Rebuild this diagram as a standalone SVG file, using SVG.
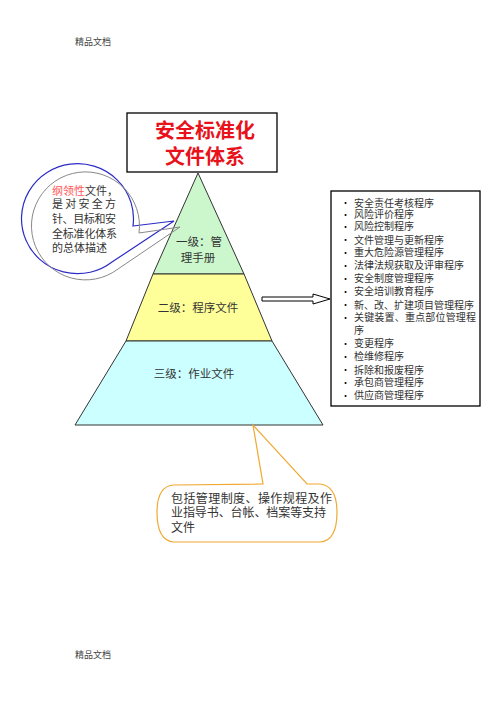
<svg xmlns="http://www.w3.org/2000/svg" width="496" height="702" viewBox="0 0 496 702">
<style>
text{font-family:"Noto Sans CJK SC","Liberation Sans",sans-serif;fill:#333}
.hdr{font-size:9px;fill:#444}
.lvl{font-size:11.5px;text-anchor:middle}
.list{font-size:10px;fill:#333}
.bul{font-size:9px;fill:#000}
.co{font-size:11px}
.co2{font-size:12px}
.title{font-size:20px;font-weight:bold;fill:#e8121b;text-anchor:middle}
</style>
<rect width="496" height="702" fill="#fff"/>
<text class="hdr" x="75" y="45">精品文档</text>
<text class="hdr" x="75" y="658">精品文档</text>

<g id="pyramid">
<polygon points="198,173 244,274 153,274" fill="#ccf7cc" stroke="#333" stroke-width="1"/>
<polygon points="153,274 244,274 272,341 126,341" fill="#ffff99" stroke="#333" stroke-width="1"/>
<polygon points="126,341 272,341 323,425 75,425" fill="#ccffff" stroke="#333" stroke-width="1"/>
<text class="lvl"><tspan x="199" y="246">一级：管</tspan><tspan x="198" y="262">理手册</tspan></text>
<text class="lvl" x="198" y="312">二级：程序文件</text>
<text class="lvl" x="194" y="378">三级：作业文件</text>
</g>

<g id="title">
<rect x="127" y="113" width="150" height="59" fill="#fff" stroke="#000" stroke-width="1.3"/>
<text class="title"><tspan x="205" y="138">安全标准化</tspan><tspan x="205" y="164">文件体系</tspan></text>
</g>

<g id="callout-left">
<path d="M133,226 L174,221 L112,262 A56,55 0 1 1 133,226 Z" fill="#fff" stroke="#2b2bc8" stroke-width="1.2"/>
<path d="M137,232 L178,226 L116,268 A54,54 0 1 1 137,232 Z" fill="none" stroke="#888" stroke-width="1" transform="translate(2,1)"/>
<text class="co"><tspan x="52" y="195" fill="#ff5a5a">纲领性</tspan><tspan>文件，</tspan><tspan x="52" y="208" textLength="64" lengthAdjust="spacing">是对安全方</tspan><tspan x="52" y="223" textLength="64" lengthAdjust="spacing">针、目标和安</tspan><tspan x="52" y="238" textLength="65" lengthAdjust="spacing">全标准化体系</tspan><tspan x="52" y="252">的总体描述</tspan></text>
</g>

<g id="connectors">
<path d="M262,297 L313,297 L313,294 L330,299 L313,304 L313,301 L262,301 Z" fill="#fff" stroke="#000" stroke-width="1"/>
</g>

<g id="list">
<rect x="331" y="191" width="149" height="215" fill="#fff" stroke="#000" stroke-width="1.3"/>
<text class="bul"><tspan x="341" y="206">•</tspan><tspan x="341" y="218">•</tspan><tspan x="341" y="230">•</tspan><tspan x="341" y="243">•</tspan><tspan x="341" y="256">•</tspan><tspan x="341" y="269">•</tspan><tspan x="341" y="282">•</tspan><tspan x="341" y="295">•</tspan><tspan x="341" y="308">•</tspan><tspan x="341" y="321">•</tspan><tspan x="341" y="347">•</tspan><tspan x="341" y="360">•</tspan><tspan x="341" y="373">•</tspan><tspan x="341" y="386">•</tspan><tspan x="341" y="399">•</tspan></text>
<text class="list"><tspan x="354" y="206.5">安全责任考核程序</tspan><tspan x="354" y="218">风险评价程序</tspan><tspan x="354" y="229.5">风险控制程序</tspan><tspan x="354" y="243.5">文件管理与更新程序</tspan><tspan x="354" y="255.5">重大危险源管理程序</tspan><tspan x="354" y="268.5">法律法规获取及评审程序</tspan><tspan x="354" y="281.5">安全制度管理程序</tspan><tspan x="354" y="294.5">安全培训教育程序</tspan><tspan x="354" y="308.5">新、改、扩建项目管理程序</tspan><tspan x="354" y="320.5" textLength="122" lengthAdjust="spacing">关键装置、重点部位管理程</tspan><tspan x="354" y="333.5">序</tspan><tspan x="354" y="346.5">变更程序</tspan><tspan x="354" y="359.5">检维修程序</tspan><tspan x="354" y="373.5">拆除和报废程序</tspan><tspan x="354" y="385.5">承包商管理程序</tspan><tspan x="354" y="398.5">供应商管理程序</tspan></text>
</g>

<g id="callout-bottom">
<path d="M253,425 L307,484 L320,484 Q337,486 337,512 Q337,541 320,542 L174,542 Q157,541 157,512 Q157,486 174,485 L263,484 Z" fill="#fff" stroke="#f0a830" stroke-width="1.2"/>
<text class="co2"><tspan x="171" y="502.5" textLength="161" lengthAdjust="spacing">包括管理制度、操作规程及作</tspan><tspan x="171" y="517" textLength="155" lengthAdjust="spacing">业指导书、台帐、档案等支持</tspan><tspan x="171" y="531.5">文件</tspan></text>
</g>
</svg>
